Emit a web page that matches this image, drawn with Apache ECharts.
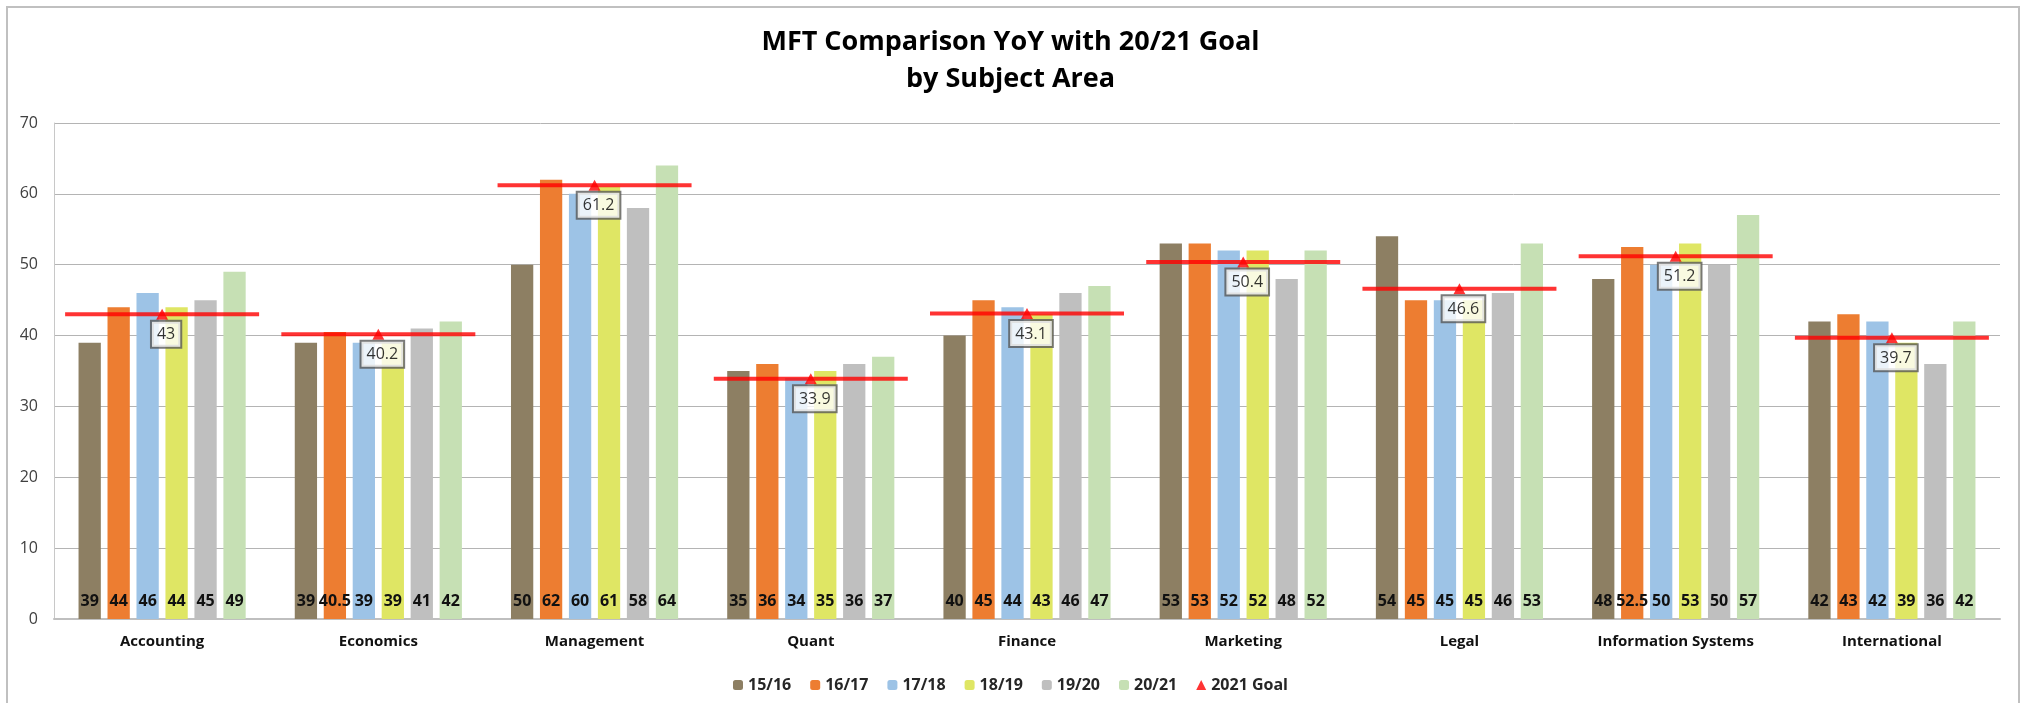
<!DOCTYPE html>
<html>
<head>
    <meta charset="UTF-8">
    <title>MFT Comparison YoY with 20/21 Goal</title>
    <style>
        html, body {
            height: 100%;
            margin: 0;
            padding: 0;
            background: #fff;
        }
        #chart-container {
            width: 2021px;
            height: 703px;
        }
    </style>
</head>
<body>
<div id="chart-container"></div>

<script src="https://cdn.jsdelivr.net/npm/echarts@6.0.0/dist/echarts.min.js"></script>
<script>
    // subject areas (x axis)
    const subjects = ['Accounting', 'Economics', 'Management', 'Quant', 'Finance',
        'Marketing', 'Legal', 'Information Systems', 'International'];

    // yearly scores per subject
    const y1516 = [39, 39, 50, 35, 40, 53, 54, 48, 42];
    const y1617 = [44, 40.5, 62, 36, 45, 53, 45, 52.5, 43];
    const y1718 = [46, 39, 60, 34, 44, 52, 45, 50, 42];
    const y1819 = [44, 39, 61, 35, 43, 52, 45, 53, 39];
    const y1920 = [45, 41, 58, 36, 46, 48, 46, 50, 36];
    const y2021 = [49, 42, 64, 37, 47, 52, 53, 57, 42];

    // 2021 goal
    const goal2021 = [43, 40.2, 61.2, 33.9, 43.1, 50.4, 46.6, 51.2, 39.7];

    const yearNames = ['15/16', '16/17', '17/18', '18/19', '19/20', '20/21'];
    const yearData = [y1516, y1617, y1718, y1819, y1920, y2021];
    const yearColors = ['#8d7f63', '#ed7d31', '#9dc3e6', '#dfe664', '#bfbfbf', '#c6e0b4'];

    const fontName = '"Open Sans", "Liberation Sans", sans-serif';

    const chart = echarts.init(document.getElementById('chart-container'));

    const barSeries = yearNames.map(function (name, i) {
        return {
            name: name,
            type: 'bar',
            data: yearData[i],
            barGap: '30%',
            barCategoryGap: '22.7%',
            itemStyle: { color: yearColors[i] },
            label: {
                show: true,
                position: 'insideBottom',
                distance: 10,
                color: '#111',
                fontFamily: fontName,
                fontWeight: 'bold',
                fontSize: 16
            }
        };
    });

    const option = {
        animation: false,
        graphic: [{
            type: 'rect',
            shape: { x: 7, y: 7, width: 2012, height: 705 },
            style: { fill: 'none', stroke: '#c0c0c0', lineWidth: 2 },
            silent: true
        }],
        title: {
            text: 'MFT Comparison YoY with 20/21 Goal\nby Subject Area',
            left: 'center',
            top: 24,
            padding: 0,
            textStyle: {
                fontFamily: fontName,
                fontWeight: 'bold',
                fontSize: 27,
                lineHeight: 37,
                color: '#000'
            }
        },
        legend: {
            data: yearNames.concat([{ name: '2021 Goal', icon: 'triangle' }]),
            left: 'center',
            top: 672,
            itemWidth: 10,
            itemHeight: 10,
            itemGap: 19,
            textStyle: {
                fontFamily: fontName,
                fontWeight: 'bold',
                fontSize: 16,
                color: '#262626'
            }
        },
        grid: {
            left: 54,
            right: 21,
            top: 123,
            bottom: 84,
            containLabel: false,
            outerBoundsMode: 'none'
        },
        xAxis: {
            type: 'category',
            data: subjects,
            axisTick: { show: false },
            axisLine: { lineStyle: { color: '#bfbfbf', width: 2 } },
            axisLabel: {
                margin: 15,
                color: '#111',
                fontFamily: fontName,
                fontWeight: 'bold',
                fontSize: 15,
                interval: 0
            }
        },
        yAxis: {
            type: 'value',
            min: 0,
            max: 70,
            interval: 10,
            axisLine: { show: true, lineStyle: { color: '#c8c8c8', width: 1 } },
            axisTick: { show: false },
            splitLine: { lineStyle: { color: '#b4b4b4', width: 1 } },
            axisLabel: {
                margin: 16,
                color: '#404040',
                fontFamily: fontName,
                fontSize: 16
            }
        },
        series: barSeries.concat([
            {
                // red goal bar across each subject
                name: 'goal line',
                type: 'scatter',
                data: goal2021,
                symbol: 'rect',
                symbolSize: [194, 4],
                itemStyle: { color: '#ff0000' },
                silent: true,
                z: 5
            },
            {
                name: '2021 Goal',
                type: 'scatter',
                data: goal2021,
                symbol: 'triangle',
                symbolSize: [12, 11],
                itemStyle: { color: '#ff0000' },
                z: 6,
                label: {
                    show: true,
                    position: 'bottom',
                    distance: 2,
                    offset: [4, 0],
                    formatter: '{c}',
                    color: '#000',
                    fontFamily: fontName,
                    fontSize: 16,
                    backgroundColor: '#fff',
                    borderColor: '#595959',
                    borderWidth: 2,
                    padding: [5, 5, 4, 5]
                }
            }
        ])
    };

    chart.setOption(option);
</script>
</body>
</html>
